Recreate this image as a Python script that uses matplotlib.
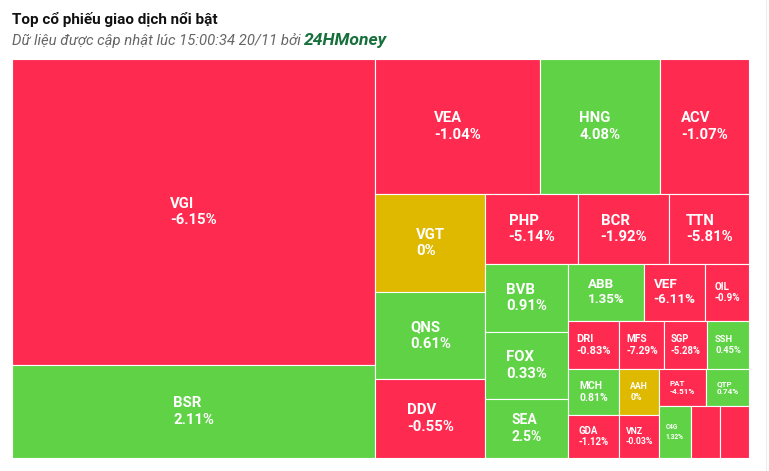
import matplotlib.pyplot as plt
from matplotlib.patches import Rectangle

# --- data (sizes, order as in the source) ---
tickers = ['VGI', 'BSR', 'VEA', 'HNG', 'ACV', 'VGT', 'QNS', 'DDV', 'PHP', 'BCR',
           'TTN', 'BVB', 'FOX', 'SEA', 'ABB', 'VEF', 'OIL', 'DRI', 'MCH', 'GDA',
           'MFS', 'SGP', 'SSH', 'AAH', 'VNZ', 'PAT', 'QTP', 'C4G', '', '']
changes = [-6.15, 2.11, -1.04, 4.08, -1.07, 0, 0.61, -0.55, -5.14, -1.92,
           -5.81, 0.91, 0.33, 2.5, 1.35, -6.11, -0.9, -0.83, 0.81, -1.12,
           -7.29, -5.28, 0.45, 0, -0.03, -4.51, 0.74, 1.32, -1.0, -1.0]  # last two: label hidden, only sign known
sizes = [111231, 33806, 22208, 16200, 12015, 10780, 9570, 8690, 6510, 6370,
         5579, 5603, 5521, 4862, 4349, 3477, 2508, 2477, 2374, 2219,
         2160, 2050, 2016, 1826, 1707, 1739, 1591, 1638, 1524, 1508]

RED = '#ff2a50'
GREEN = '#5fd345'
YELLOW = '#dfb900'


def squarified(values, width, height):
    """Highcharts style squarified layout: strips alternate column / row."""
    total = float(sum(values))
    areas = [v * width * height / total for v in values]
    rects = []
    box = {'x': 0.0, 'y': 0.0, 'w': float(width), 'h': float(height)}

    def thickness(tot, d):
        return tot / box['h'] if d == 0 else tot / box['w']

    def flush(items, t, d):
        px, py = box['x'], box['y']
        for a in items:
            if d == 0:
                rects.append((px, py, t, a / t))
                py += a / t
            else:
                rects.append((px, py, a / t, t))
                px += a / t
        if d == 0:
            box['x'] += t
            box['w'] -= t
        else:
            box['y'] += t
            box['h'] -= t

    def ratio(a, b):
        return max(a / b, b / a)

    direction = 0
    group = []
    for a in areas:
        if group:
            prev = group[-1]
            old = thickness(sum(group), direction)
            new = thickness(sum(group) + a, direction)
            if ratio(new, prev / new) > ratio(old, prev / old):
                flush(group, old, direction)
                direction = 1 - direction
                group = []
        group.append(a)
    flush(group, thickness(sum(group), direction), direction)
    return rects


def cell_color(c):
    if c > 0:
        return GREEN
    if c < 0:
        return RED
    return YELLOW


def fmt_change(c):
    return '{:g}%'.format(c)


W, H = 737, 399
fig = plt.figure(figsize=(7.69, 4.71), dpi=100)
ax = fig.add_axes([12 / 769, 1 - 458 / 471, W / 769, H / 471])
ax.set_xlim(0, W)
ax.set_ylim(H, 0)
ax.axis('off')

rects = squarified(sizes, W, H)
for (x, y, w, h), name, c in zip(rects, tickers, changes):
    ax.add_patch(Rectangle((x, y), w, h, facecolor=cell_color(c),
                           edgecolor='white', linewidth=0.8))
    m = min(w, h)
    if not name or m < 30:
        continue
    cap = min(10.6, max(3.6, (0.17 * m - 1.2) * 1.12))
    fs = cap / 0.711 * 0.72
    ax.text(x + w / 2, y + h / 2, name + '\n' + fmt_change(c),
            ha='center', va='center', multialignment='left',
            color='white', fontsize=fs, fontweight='bold', family='Roboto')

# title + subtitle
fig.text(12 / 769, 1 - 24 / 471, 'Top cổ phiếu giao dịch nổi bật',
         fontsize=11.0, fontweight='bold', family='Roboto', color='#111111',
         va='baseline')
sub = fig.text(12 / 769, 1 - 45 / 471, 'Dữ liệu được cập nhật lúc 15:00:34 20/11 bởi ',
               fontsize=10.7, style='italic', family='Roboto', color='#666666',
               va='baseline')
brand = fig.text(0, 1 - 45 / 471, '24HMoney', fontsize=12.6, style='italic',
                 fontweight='bold', family='Roboto', color='#17703c',
                 va='baseline', ha='left')
fig.canvas.draw()
bb = sub.get_window_extent()
brand.set_x(bb.x1 / fig.bbox.width)

# thin frame line on the right like the page border
fig.add_artist(plt.Line2D([766 / 769, 766 / 769], [0, 1], color='#eeeeee', linewidth=0.8))

fig.savefig('out.png', dpi=100)
